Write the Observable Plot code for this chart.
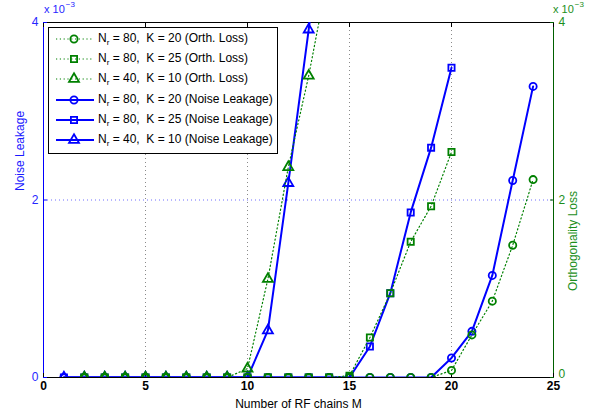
<!DOCTYPE html>
<html>
<head>
<meta charset="utf-8">
<script src="https://cdn.jsdelivr.net/npm/d3@7"></script>
<script src="https://cdn.jsdelivr.net/npm/@observablehq/plot@0.6"></script>
<style>
  body { margin: 0; background: #fff; font-family: "Liberation Sans", Arial, Helvetica, sans-serif; }
  #wrap { position: relative; width: 600px; height: 418px; }
  .exp { position: absolute; top: 0; height: 16px; width: 40px; }
  .exp .base { position: absolute; left: 0; top: 4px; font-size: 11px; line-height: 11px; white-space: pre; }
  .exp .pow { position: absolute; top: 1px; font-size: 8px; line-height: 8px; white-space: pre; }
  #legend { position: absolute; left: 48px; top: 27px; width: 228px; height: 125px; border: 1px solid #000; background: #fff; }
  .row { position: absolute; left: 0; height: 20px; width: 228px; }
  .row svg { position: absolute; left: 0; top: 0; }
  .row span { position: absolute; left: 49px; top: 2px; font-size: 12px; white-space: pre; color: #000; }
  .row sub { font-size: 8px; vertical-align: -3px; line-height: 0; }
</style>
</head>
<body>
<div id="wrap"></div>
<script>
// Number of RF chains M: noise leakage is evaluated from M = 1, orthogonality loss from M = 2
const noiseStart = 1;
const orthStart = 2;

// Noise leakage (x 10^-3)
const leak_Nr80_K20 = [0, 0, 0, 0, 0, 0, 0, 0, 0, 0, 0, 0, 0, 0, 0, 0, 0, 0, 0, 0.22, 0.52, 1.15, 2.22, 3.28];
const leak_Nr80_K25 = [0, 0, 0, 0, 0, 0, 0, 0, 0, 0, 0, 0, 0, 0, 0, 0.35, 0.95, 1.86, 2.59, 3.49];
const leak_Nr40_K10 = [0, 0, 0, 0, 0, 0, 0, 0, 0, 0, 0.53, 2.19, 3.92, 5.8];

// Orthogonality loss (x 10^-3)
const orth_Nr80_K20 = [0, 0, 0, 0, 0, 0, 0, 0, 0, 0, 0, 0, 0, 0, 0, 0, 0, 0, 0.08, 0.48, 0.86, 1.49, 2.23];
const orth_Nr80_K25 = [0, 0, 0, 0, 0, 0, 0, 0, 0, 0, 0, 0, 0, 0.02, 0.45, 0.95, 1.53, 1.93, 2.54];
const orth_Nr40_K10 = [0, 0, 0, 0, 0, 0, 0, 0, 0.10, 1.11, 2.37, 3.40, 4.6];

// Axis ticks
const xTicks = [0, 5, 10, 15, 20, 25];
const xGrid = [5, 10, 15, 20];
const yTicks = [0, 2, 4];
const yGrid = [2];

const BLUE = "#0000ff";
const GREEN = "#008000";

const series = [
  { nr: 80, k: 20, kind: "Orth. Loss", symbol: "circle", values: orth_Nr80_K20, start: orthStart },
  { nr: 80, k: 25, kind: "Orth. Loss", symbol: "square", values: orth_Nr80_K25, start: orthStart },
  { nr: 40, k: 10, kind: "Orth. Loss", symbol: "triangle", values: orth_Nr40_K10, start: orthStart },
  { nr: 80, k: 20, kind: "Noise Leakage", symbol: "circle", values: leak_Nr80_K20, start: noiseStart },
  { nr: 80, k: 25, kind: "Noise Leakage", symbol: "square", values: leak_Nr80_K25, start: noiseStart },
  { nr: 40, k: 10, kind: "Noise Leakage", symbol: "triangle", values: leak_Nr40_K10, start: noiseStart }
];

const symbolR = { circle: 3.6, square: 3.5, triangle: 3.7 };

function styleOf(s) {
  return s.kind === "Orth. Loss"
    ? { stroke: GREEN, strokeWidth: 1.2, strokeDasharray: "1.2,2.6" }
    : { stroke: BLUE, strokeWidth: 2, strokeDasharray: null };
}

function rowsOf(s) {
  return s.values.map((v, i) => ({ M: s.start + i, v }));
}

// Blue (noise leakage) drawn first, green (orthogonality loss) on top
const drawOrder = [3, 4, 5, 0, 1, 2].map(i => series[i]);

const seriesMarks = drawOrder.flatMap(s => {
  const st = styleOf(s);
  const rows = rowsOf(s);
  return [
    Plot.line(rows, { x: "M", y: "v", stroke: st.stroke, strokeWidth: st.strokeWidth, strokeDasharray: st.strokeDasharray, clip: true }),
    Plot.dot(rows, { x: "M", y: "v", symbol: () => s.symbol, r: symbolR[s.symbol], stroke: st.stroke, strokeWidth: 1.8, fill: "none", clip: true })
  ];
});

const font = "'Liberation Sans', Arial, Helvetica, sans-serif";
const plain = d => String(d);
const rightLabel = { anchor: "right", tickSize: 0, tickPadding: 5, tickFormat: plain, label: null, fill: "#1c8f1c", fontSize: 12 };

const chart = Plot.plot({
  width: 600,
  height: 418,
  marginLeft: 43,
  marginRight: 47,
  marginTop: 22,
  marginBottom: 41,
  style: { fontFamily: font, fontSize: "12px", background: "white", overflow: "visible" },
  x: { domain: [0, 25] },
  y: { domain: [0, 4] },
  symbol: { type: "identity" },
  marks: [
    // dotted grid
    Plot.ruleX(xGrid, { stroke: "#8a8a8a", strokeDasharray: "1,3", strokeWidth: 1 }),
    Plot.ruleY(yGrid, { stroke: "#6f6fff", strokeDasharray: "1,3", strokeWidth: 1 }),
    // box
    Plot.ruleY([4], { stroke: "#000", strokeWidth: 1 }),
    Plot.ruleY([0], { stroke: "#000", strokeWidth: 1 }),
    Plot.ruleX([0], { stroke: BLUE, strokeWidth: 1 }),
    Plot.ruleX([25], { stroke: "#006000", strokeWidth: 1 }),
    // inward ticks
    Plot.axisX(xTicks, { anchor: "bottom", tickSize: 4, dy: -4, tickFormat: () => "", label: null, stroke: "#000" }),
    Plot.axisX(xTicks, { anchor: "top", tickSize: 4, dy: 4, tickFormat: () => "", label: null, stroke: "#000" }),
    Plot.axisY(yTicks, { anchor: "left", tickSize: 4, dx: 4, tickFormat: () => "", label: null, stroke: BLUE }),
    Plot.axisY(yTicks, { anchor: "right", tickSize: 4, dx: -4, tickFormat: () => "", label: null, stroke: "#006000" }),
    // tick labels
    Plot.axisX(xTicks, { anchor: "bottom", tickSize: 0, tickPadding: 4, tickFormat: plain, label: null, fill: "#000", fontWeight: "bold", fontSize: 12 }),
    Plot.axisY(yTicks, { anchor: "left", tickSize: 0, tickPadding: 5, tickFormat: plain, label: null, fill: "#2626ff", fontSize: 12 }),
    Plot.axisY(yTicks.filter(t => t > 0), rightLabel),
    Plot.axisY(yTicks.filter(t => t === 0), { ...rightLabel, dy: -3 }),
    // axis titles
    Plot.text(["Number of RF chains M"], { frameAnchor: "bottom", dy: 30, fill: "#000", fontSize: 12 }),
    Plot.text(["Noise Leakage"], { frameAnchor: "left", dx: -23, dy: -9, rotate: -90, fill: "#1a1aff", fontSize: 12 }),
    Plot.text(["Orthogonality Loss"], { frameAnchor: "right", dx: 20, dy: -9, rotate: -90, fill: "#1c8f1c", fontSize: 12 }),
    ...seriesMarks
  ]
});

const wrap = document.getElementById("wrap");
wrap.appendChild(chart);

// exponent annotations for both y axes
function exponent(left, color) {
  const d = document.createElement("div");
  d.className = "exp";
  d.style.left = left + "px";
  d.style.color = color;
  const base = document.createElement("span");
  base.className = "base";
  base.textContent = "x 10";
  d.appendChild(base);
  const pow = document.createElement("span");
  pow.className = "pow";
  pow.textContent = "\u22123";
  d.appendChild(pow);
  wrap.appendChild(d);
  pow.style.left = (base.getBoundingClientRect().width + 1) + "px";
}
exponent(44, "#2626ff");
exponent(553, "#1c8f1c");

// legend
const legend = document.createElement("div");
legend.id = "legend";
wrap.appendChild(legend);
const ns = "http://www.w3.org/2000/svg";
const d3Sym = { circle: d3.symbolCircle, square: d3.symbolSquare, triangle: d3.symbolTriangle };
series.forEach((s, i) => {
  const st = styleOf(s);
  const row = document.createElement("div");
  row.className = "row";
  row.style.top = (1 + i * 20.2) + "px";
  const svg = document.createElementNS(ns, "svg");
  svg.setAttribute("width", 48);
  svg.setAttribute("height", 20);
  const line = document.createElementNS(ns, "line");
  line.setAttribute("x1", 7); line.setAttribute("x2", 45);
  line.setAttribute("y1", 10); line.setAttribute("y2", 10);
  line.setAttribute("stroke", st.stroke);
  line.setAttribute("stroke-width", st.strokeWidth);
  if (st.strokeDasharray) line.setAttribute("stroke-dasharray", st.strokeDasharray);
  svg.appendChild(line);
  const r = symbolR[s.symbol];
  const path = document.createElementNS(ns, "path");
  path.setAttribute("d", d3.symbol(d3Sym[s.symbol], Math.PI * r * r)());
  path.setAttribute("transform", "translate(25,10)");
  path.setAttribute("fill", "none");
  path.setAttribute("stroke", st.stroke);
  path.setAttribute("stroke-width", 1.8);
  svg.appendChild(path);
  row.appendChild(svg);
  const label = document.createElement("span");
  label.innerHTML = `N<sub>r</sub> = ${s.nr},  K = ${s.k} (${s.kind})`;
  row.appendChild(label);
  legend.appendChild(row);
});
</script>
</body>
</html>
